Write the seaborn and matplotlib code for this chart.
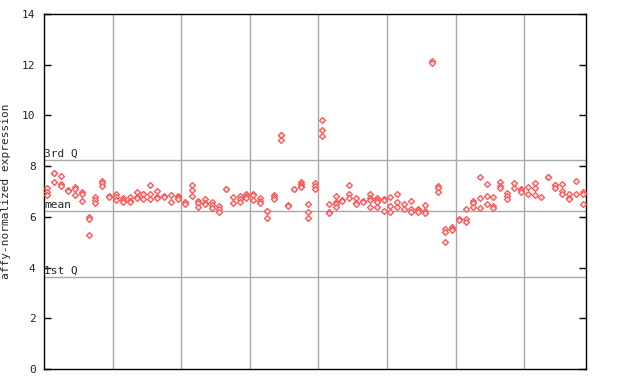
import matplotlib
matplotlib.use("Agg")
import matplotlib.pyplot as plt
import seaborn as sns
import pandas as pd
import numpy as np

# expression values per sample column
columns = [
    [7.12, 6.99, 6.86], [7.74, 7.71, 7.36], [7.61, 7.29, 7.22], [7.04, 7.01],
    [7.16, 7.08, 6.86], [6.97, 6.89, 6.64], [5.98, 5.90, 5.28], [6.77, 6.66, 6.56],
    [7.42, 7.32, 7.22], [6.81, 6.78], [6.89, 6.78, 6.66], [6.76, 6.66, 6.57],
    [6.77, 6.61, 6.58], [7.00, 6.77, 6.74], [6.92, 6.89, 6.69], [7.26, 6.90, 6.69],
    [7.02, 6.77, 6.74], [6.81, 6.78], [6.86, 6.57], [6.83, 6.80, 6.69],
    [6.57, 6.49], [7.26, 7.06, 6.84], [6.62, 6.53, 6.40], [6.69, 6.54, 6.51],
    [6.57, 6.47, 6.36], [6.43, 6.30, 6.18], [7.11, 7.08], [6.77, 6.56],
    [6.82, 6.69, 6.57], [6.92, 6.82, 6.73], [6.89, 6.86, 6.66], [6.73, 6.64, 6.53],
    [6.25, 6.22, 5.94], [6.86, 6.77, 6.69], [9.24, 9.21, 9.05], [6.45, 6.42],
    [7.11, 7.08], [7.39, 7.30, 7.20, 7.17], [6.51, 6.18, 5.94], [7.32, 7.22, 7.10],
    [9.81, 9.41, 9.19], [6.51, 6.18, 6.15], [6.82, 6.60, 6.49, 6.37], [6.67, 6.64],
    [7.26, 6.89, 6.76], [6.76, 6.54, 6.51], [6.63, 6.60], [6.89, 6.76, 6.66, 6.37],
    [6.76, 6.66, 6.57, 6.40], [6.70, 6.67, 6.24], [6.77, 6.43, 6.20], [6.92, 6.58, 6.37],
    [6.51, 6.30], [6.61, 6.30, 6.20], [6.32, 6.29, 6.20], [6.47, 6.24, 6.14],
    [12.16, 12.05], [7.23, 7.12, 6.99], [5.51, 5.41, 5.00], [5.61, 5.53, 5.50],
    [5.92, 5.89], [6.30, 5.91, 5.78], [6.64, 6.53, 6.37], [7.59, 6.73, 6.33],
    [7.28, 6.82, 6.49], [6.77, 6.44, 6.36], [7.39, 7.23, 7.13], [6.95, 6.84, 6.71],
    [7.32, 7.12], [7.08, 7.05, 6.97], [7.16, 6.92], [7.32, 7.12, 6.86],
    [6.79], [7.59, 7.56], [7.27, 7.24, 7.12], [7.28, 7.03, 6.92],
    [6.89, 6.75, 6.72], [7.42, 6.92], [6.97, 6.89, 6.49],
]

q3_value = 8.23
mean_value = 6.22
q1_value = 3.62
y_ticks = [0, 2, 4, 6, 8, 10, 12, 14]

rows = []
for i, vals in enumerate(columns, start=1):
    for v in vals:
        rows.append({"sample": i, "expression": v})
df = pd.DataFrame(rows)

sns.set_style("white")
plt.rcParams["font.family"] = ["DejaVu Sans Mono"]

fig = plt.figure(figsize=(6.4, 3.84), dpi=100)
ax = fig.add_axes([44/640, 15/384, 542/640, 355/384])

n = len(columns)
grid_color = "#a8a8a8"
for k in range(10, n, 10):
    ax.axvline(k + 0.5, color=grid_color, lw=1, zorder=1)
for yv in (q3_value, mean_value, q1_value):
    ax.axhline(yv, color=grid_color, lw=1, zorder=1)

sns.scatterplot(data=df, x="sample", y="expression", marker="D", s=9,
                facecolor="#ffe6e6", edgecolor="#ff5050", linewidth=0.9,
                ax=ax, zorder=3, legend=False)

ax.set_xlim(0.5, n + 0.5)
ax.set_ylim(0, 14)
ax.set_xticks([])
ax.set_yticks(y_ticks)
ax.set_yticklabels([str(t) for t in y_ticks], fontsize=8)
ax.tick_params(axis="y", direction="in", length=5, width=1, color="black",
               right=True, left=True, labelright=False, pad=6)
for sp in ax.spines.values():
    sp.set_color("black")
    sp.set_linewidth(1)
ax.set_xlabel("")
ax.set_ylabel("affy-normalized expression", fontsize=8, labelpad=8)

ax.text(0.55, q3_value + 0.05, "3rd Q", fontsize=8, va="bottom", ha="left", zorder=4)
ax.text(0.55, mean_value + 0.05, "mean", fontsize=8, va="bottom", ha="left", zorder=4)
ax.text(0.55, q1_value + 0.05, "1st Q", fontsize=8, va="bottom", ha="left", zorder=4)

fig.savefig("out.png", dpi=100)
